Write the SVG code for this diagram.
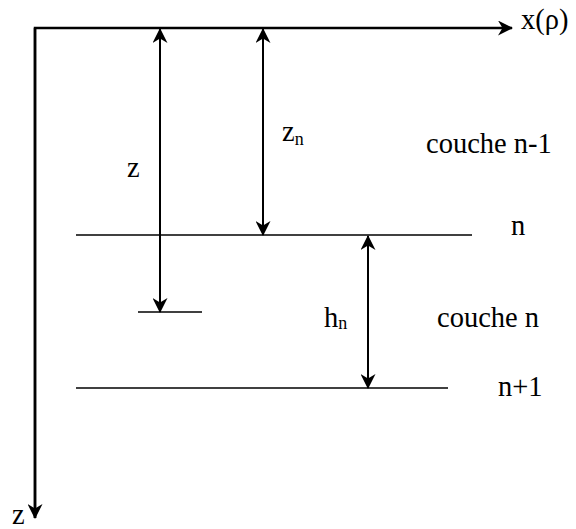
<svg xmlns="http://www.w3.org/2000/svg" width="576" height="529" viewBox="0 0 576 529">
<style>
.ax{stroke:#000;stroke-width:2.5;fill:none}
.ar{stroke:#000;stroke-width:2;fill:none}
.ln{stroke:#000;stroke-width:1.6;fill:none}
text{font-family:"Liberation Serif","Times New Roman",serif;fill:#000}
.t{font-size:28.5px}
.s{font-size:18px}
</style>
<defs>
<marker id="ah" viewBox="0 0 15 15" refX="14" refY="7.5" markerWidth="15" markerHeight="15" markerUnits="userSpaceOnUse" orient="auto-start-reverse">
<path d="M0,0 L15,7.5 L0,15 L4.5,7.5 Z" fill="#000"/>
</marker>
</defs>
<g id="connectors">
<polyline class="ax" points="35,518 35,28 512,28" marker-end="url(#ah)"/>
<line class="ax" x1="35" y1="28" x2="35" y2="518" marker-end="url(#ah)"/>
<line class="ar" x1="160" y1="29" x2="160" y2="312" marker-start="url(#ah)" marker-end="url(#ah)"/>
<line class="ar" x1="263" y1="29" x2="263" y2="235" marker-start="url(#ah)" marker-end="url(#ah)"/>
<line class="ar" x1="368" y1="236" x2="368" y2="388" marker-start="url(#ah)" marker-end="url(#ah)"/>
</g>
<g id="layer-n">
<line class="ln" x1="76" y1="235" x2="472" y2="235"/>
<text class="t" x="511" y="235">n</text>
</g>
<g id="layer-n1">
<line class="ln" x1="76" y1="388" x2="448" y2="388"/>
<text class="t" x="498" y="396">n+1</text>
</g>
<g id="point-z">
<line class="ln" x1="138" y1="312" x2="202" y2="312"/>
</g>
<g id="labels">
<text class="t" x="521" y="29">x(ρ)</text>
<text class="t" x="282" y="141">z<tspan class="s" dy="4">n</tspan></text>
<text class="t" x="127" y="177">z</text>
<text class="t" x="426" y="153">couche n-1</text>
<text class="t" x="324" y="327">h<tspan class="s" dy="2">n</tspan></text>
<text class="t" x="437" y="327">couche n</text>
<text class="t" x="12" y="524">z</text>
</g>
</svg>
